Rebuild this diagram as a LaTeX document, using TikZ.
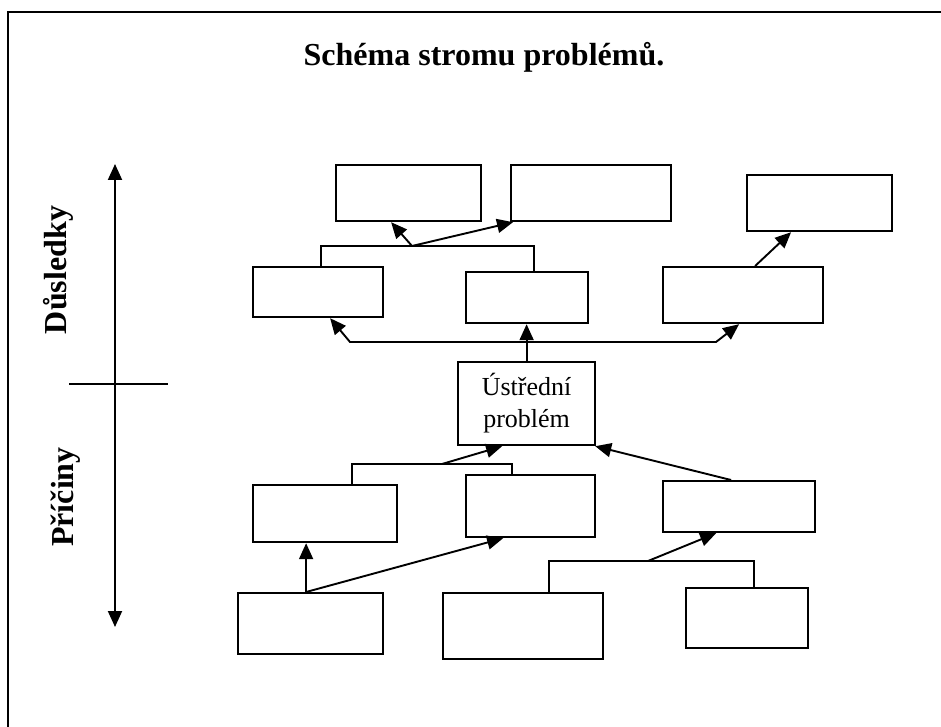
\documentclass[tikz,border=0pt]{standalone}
\usepackage{fontspec}
\setmainfont{Liberation Serif}
\usetikzlibrary{arrows.meta}
\begin{document}
\begin{tikzpicture}[x=1pt,y=-1pt]
\tikzset{
  box/.style={draw, line width=2.2pt, inner sep=0pt, anchor=north west},
  link/.style={line width=1.9pt, line join=miter},
  tip/.tip={Triangle[length=16pt,width=14pt]},
  arr/.style={link, -tip},
  heading/.style={font=\bfseries\fontsize{32}{38}\selectfont},
}
\useasboundingbox (0,0) rectangle (941,727);
% outer frame
\draw[line width=2pt] (8,740) -- (8,12) -- (950,12);

% title
\node[heading, anchor=base] (title) at (484,66) {Schéma stromu problémů.};

% vertical axis with labels
\coordinate (axTop) at (115,164);
\coordinate (axBot) at (115,627);
\coordinate (crossL) at (69,384);
\coordinate (crossR) at (168,384);
\draw[link, tip-tip] (axBot) -- (axTop);
\draw[link] (crossL) -- (crossR);
\node[heading, rotate=90] (dusl) at (58,270) {Důsledky};
\node[heading, rotate=90] (pric) at (66,497) {Příčiny};

% consequence boxes
\node[box, minimum width=145pt, minimum height=56pt] (A) at (335,164) {};
\node[box, minimum width=160pt, minimum height=56pt] (B) at (510,164) {};
\node[box, minimum width=145pt, minimum height=56pt] (C) at (746,174) {};
\node[box, minimum width=130pt, minimum height=50pt] (D) at (252,266) {};
\node[box, minimum width=122pt, minimum height=51pt] (E) at (465,271) {};
\node[box, minimum width=160pt, minimum height=56pt] (F) at (662,266) {};

% central problem
\node[box, minimum width=137pt, minimum height=83pt, align=center,
      font=\fontsize{26}{32}\selectfont] (G) at (457,361) {Ústřední\\problém};

% cause boxes
\node[box, minimum width=144pt, minimum height=57pt] (H) at (252,484) {};
\node[box, minimum width=129pt, minimum height=62pt] (I) at (465,474) {};
\node[box, minimum width=152pt, minimum height=51pt] (M) at (662,480) {};
\node[box, minimum width=145pt, minimum height=61pt] (J) at (237,592) {};
\node[box, minimum width=160pt, minimum height=66pt] (K) at (442,592) {};
\node[box, minimum width=122pt, minimum height=60pt] (L) at (685,587) {};

% upper connectors
\draw[link] ([xshift=3pt]D.north) -- ++(0,-20) -| ([xshift=7pt]E.north);
\coordinate (deTop) at (412,246);
\draw[arr] (deTop) -- ([xshift=-17.5pt]A.south);
\draw[arr] (deTop) -- ([xshift=3pt]B.south west);
\draw[arr] ([xshift=12pt]F.north) -- ([xshift=-28.5pt]C.south);

% from the central problem to the consequences
\coordinate (gl) at (350,342);
\coordinate (gr) at (716,342);
\draw[arr] (G.north) -- (G.north |- E.south);
\draw[arr] (G.north |- gl) -- (gl) -- ([xshift=12pt]D.south);
\draw[arr] (G.north |- gr) -- (gr) -- ([xshift=-4pt]F.south);

% causes
\draw[link] ([xshift=27pt]H.north) -- ++(0,-20) -| ([xshift=-18.5pt]I.north);
\coordinate (hiTop) at (442,464);
\draw[arr] (hiTop) -- ([xshift=-24.5pt]G.south);
\draw[arr] ([xshift=-8pt]M.north) -- ([xshift=-1pt]G.south east);
\draw[arr] ([xshift=-4.5pt]J.north) -- ([xshift=-4.5pt]J.north |- H.south);
\draw[arr] ([xshift=-4.5pt]J.north) -- ([xshift=-27.5pt]I.south);
\draw[link] ([xshift=26pt]K.north) -- ++(0,-31) -| ([xshift=7pt]L.north);
\coordinate (klTop) at (648,561);
\draw[arr] (klTop) -- ([xshift=-23pt]M.south);
\end{tikzpicture}
\end{document}
